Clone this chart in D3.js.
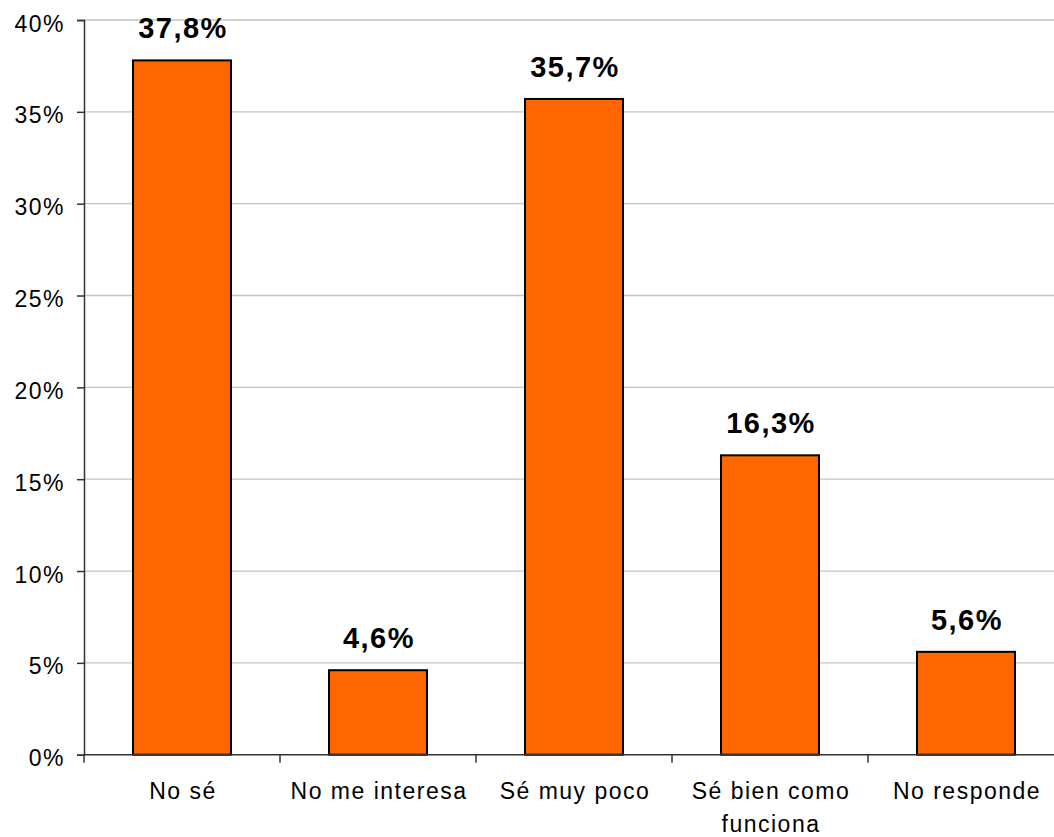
<!DOCTYPE html>
<html><head><meta charset="utf-8">
<script src="https://cdn.jsdelivr.net/npm/d3@7"></script>
<style>body{margin:0;background:#fff}svg{display:block}</style>
</head><body>
<script>
const categories = ["No sé", "No me interesa", "Sé muy poco", "Sé bien como\nfunciona", "No responde"];
const values = [37.8, 4.6, 35.7, 16.3, 5.6];
const valueLabels = ["37,8%", "4,6%", "35,7%", "16,3%", "5,6%"];
const yTicks = [0, 5, 10, 15, 20, 25, 30, 35, 40];

(function() {
const W = 1054, H = 837;
const mLeft = 84, mRight = 1064, mTop = 20, mBottom = 754.7;
const svg = d3.select("body").append("svg").attr("width", W).attr("height", H);

const x = d3.scaleBand().domain(categories).range([mLeft, mRight]).paddingInner(0.5).paddingOuter(0.25);
const y = d3.scaleLinear().domain([0, 40]).range([mBottom, mTop]);

// gridlines
svg.append("g").selectAll("line").data(yTicks.filter(d => d > 0)).join("line")
  .attr("x1", mLeft).attr("x2", W).attr("y1", d => y(d)).attr("y2", d => y(d))
  .attr("stroke", "#c4c4c4").attr("stroke-width", 1.3);

// bars
svg.append("g").selectAll("rect").data(values).join("rect")
  .attr("x", (d, i) => x(categories[i]))
  .attr("y", d => y(d))
  .attr("width", x.bandwidth())
  .attr("height", d => mBottom - y(d))
  .attr("fill", "#FF6600").attr("stroke", "#000").attr("stroke-width", 2);

// value labels
svg.append("g").selectAll("text").data(values).join("text")
  .attr("x", (d, i) => x(categories[i]) + x.bandwidth() / 2 + 1)
  .attr("y", d => y(d) - 22)
  .attr("text-anchor", "middle")
  .style("font-family", "Liberation Sans, Arial, sans-serif")
  .style("font-weight", "bold").style("font-size", "29px").style("letter-spacing", "1.5px")
  .text((d, i) => valueLabels[i]);

// y axis
const yAxis = d3.axisLeft(y).tickValues(yTicks).tickFormat(d => d + "%").tickSize(7).tickPadding(12);
const gy = svg.append("g").attr("transform", `translate(${mLeft},0)`).call(yAxis);
gy.select(".domain").attr("stroke", "#333").attr("stroke-width", 1.5);
gy.selectAll(".tick line").attr("stroke", "#333").attr("stroke-width", 1.5);
gy.selectAll(".tick text").attr("fill", "#000")
  .style("font-family", "Liberation Sans, Arial, sans-serif").style("font-size", "23px").style("letter-spacing", "1.5px")
  .attr("dy", "0.48em");

// x axis
const gx = svg.append("g").attr("transform", `translate(0,${mBottom})`);
gx.append("line").attr("x1", mLeft).attr("x2", W).attr("y1", 0).attr("y2", 0).attr("stroke", "#333").attr("stroke-width", 1.5);
const bounds = categories.map(c => x(c) - x.step() * x.paddingInner() / 2);
gx.selectAll("line.tk").data(bounds).join("line").attr("class", "tk")
  .attr("x1", d => d).attr("x2", d => d).attr("y1", 0).attr("y2", 8)
  .attr("stroke", "#333").attr("stroke-width", 1.5);
const lbl = gx.selectAll("text").data(categories).join("text")
  .attr("text-anchor", "middle")
  .style("font-family", "Liberation Sans, Arial, sans-serif").style("font-size", "23px").style("letter-spacing", "1.5px");
lbl.each(function(c) {
  const t = d3.select(this);
  c.split("\n").forEach((line, i) => {
    t.append("tspan").attr("x", x(c) + x.bandwidth() / 2 + 1).attr("y", 44 + i * 33).text(line);
  });
});
})();
</script>
</body></html>
